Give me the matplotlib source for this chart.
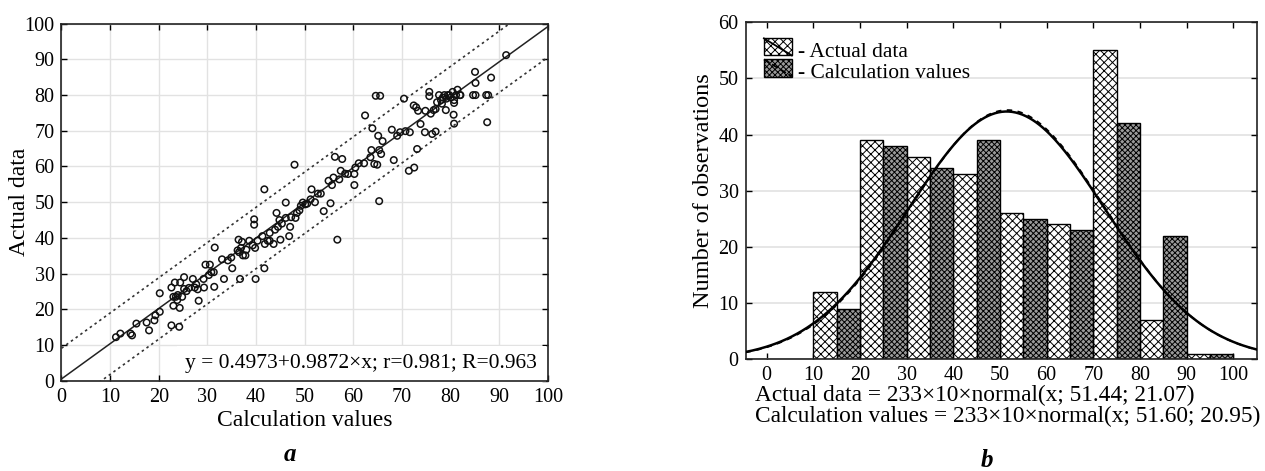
import numpy as np
import matplotlib
matplotlib.use('Agg')
import matplotlib.pyplot as plt
import matplotlib.patches as mpatches
import matplotlib.lines as mlines

plt.rcParams['font.family'] = ['Liberation Serif', 'DejaVu Serif']
plt.rcParams['hatch.linewidth'] = 0.7

# scatter: calculated vs actual
calc_x = [11.2, 12.1, 14.2, 14.5, 15.4, 17.5, 18.0, 19.1, 19.3, 20.2, 20.2, 22.6, 24.2,
          22.6, 23.3, 23.0, 23.0, 23.5, 23.8, 24.3, 24.4, 25.2, 24.8, 25.2, 25.7, 27.0,
          27.4, 27.7, 28.0, 28.2, 29.2, 29.3, 29.6, 30.5, 30.3, 30.8, 31.3, 31.4, 31.5,
          33.4, 34.2, 35.1, 34.9, 36.4, 36.5, 36.7, 36.9, 37.1, 37.3, 37.8, 38.0, 38.6,
          39.3, 39.6, 39.6, 39.8, 39.9, 40.3, 41.3, 41.7, 41.7, 41.8, 42.4, 42.8, 42.8,
          43.6, 43.9, 44.2, 44.5, 45.0, 45.3, 46.1, 46.1, 46.8, 47.0, 47.2, 47.9, 48.1,
          48.4, 48.9, 49.6, 50.1, 50.5, 51.2, 51.4, 52.1, 52.7, 53.3, 53.9, 54.9, 55.3,
          55.6, 55.9, 56.2, 56.7, 57.1, 57.4, 57.7, 58.9, 60.2, 60.2, 60.4, 61.1, 62.2,
          62.4, 63.5, 63.7, 63.9, 64.3, 64.6, 64.9, 65.1, 65.3, 65.5, 65.3, 65.7, 66.0,
          67.9, 68.3, 69.0, 69.6, 70.4, 70.7, 71.4, 71.6, 72.5, 72.4, 72.9, 73.1, 73.3,
          73.8, 74.7, 74.8, 75.6, 75.6, 75.9, 76.2, 76.5, 76.9, 76.9, 77.6, 78.0, 78.2,
          78.4, 78.7, 79.1, 79.0, 79.7, 80.0, 80.4, 80.7, 80.7, 80.6, 80.7, 81.1, 81.4,
          81.9, 84.6, 85.1, 85.0, 85.1, 87.3, 87.7, 87.5, 88.3, 91.4,
          23.9, 26.2, 33.0, 44.8, 49.2, 58.3, 77.2, 79.4, 82.0, 36.2]
actual_y = [12.2, 13.2, 13.2, 12.7, 16.0, 16.3, 14.1, 16.9, 18.3, 19.3, 24.5, 15.5, 15.1,
            26.1, 27.5, 23.5, 21.0, 23.5, 22.6, 20.4, 27.5, 29.0, 23.5, 25.7, 25.1, 28.5,
            26.1, 27.0, 25.6, 22.4, 28.5, 26.1, 32.5, 32.5, 29.6, 30.4, 30.4, 26.3, 37.3,
            28.5, 33.7, 31.5, 34.5, 39.5, 36.0, 28.5, 37.2, 38.9, 35.1, 35.1, 36.7, 39.2,
            37.9, 45.2, 43.7, 37.2, 28.5, 39.2, 40.5, 53.6, 31.5, 38.3, 39.2, 41.4, 39.2,
            38.3, 42.3, 47.0, 43.1, 39.5, 44.0, 45.6, 49.9, 40.5, 43.1, 45.8, 60.5, 45.6,
            47.0, 47.7, 49.9, 49.4, 49.6, 50.8, 53.6, 50.0, 52.4, 52.4, 47.5, 56.0, 49.7,
            54.8, 56.9, 62.7, 39.5, 56.4, 58.8, 62.1, 57.9, 57.9, 54.8, 59.7, 60.9, 60.9,
            74.3, 62.6, 64.6, 70.7, 60.7, 79.8, 60.5, 68.6, 64.6, 79.8, 50.3, 63.5, 67.1,
            70.3, 61.8, 68.6, 69.6, 79.0, 69.9, 58.8, 69.6, 59.7, 77.1, 76.6, 64.9, 75.6,
            71.9, 69.6, 75.6, 80.9, 79.7, 74.8, 69.1, 75.8, 76.1, 69.8, 80.0, 78.6, 77.6,
            79.3, 80.0, 79.0, 75.8, 80.0, 79.3, 80.9, 78.6, 77.8, 74.5, 72.0, 80.0, 81.5,
            80.0, 80.0, 80.0, 86.5, 83.4, 80.0, 80.0, 72.4, 84.9, 91.2,
            24.0, 26.0, 34.0, 45.0, 49.0, 58.0, 78.0, 80.0, 80.0, 36.5]

# regression y = a + b*x and band half-width
reg_a, reg_b = 0.4973, 0.9872
band = 8.6
reg_text = 'y = 0.4973+0.9872×x; r=0.981; R=0.963'

# histogram: bin edges and counts (alternating half-bins)
actual_left = [10, 20, 30, 40, 50, 60, 70, 80, 90]
actual_counts = [12, 39, 36, 33, 26, 24, 55, 7, 1]
calc_left = [15, 25, 35, 45, 55, 65, 75, 85, 95]
calc_counts = [9, 38, 34, 39, 25, 23, 42, 22, 1]
n_obs, bin_w = 233, 10
actual_mu, actual_sd = 51.44, 21.07
calc_mu, calc_sd = 51.60, 20.95


class PatchWithLine:
    def __init__(self, fc, hatch, ls):
        self.fc, self.hatch, self.ls = fc, hatch, ls

    def legend_artist(self, legend, orig_handle, fontsize, handlebox):
        x0, y0 = handlebox.xdescent, handlebox.ydescent
        w, h = handlebox.width, handlebox.height
        tr = handlebox.get_transform()
        rect = mpatches.Rectangle((x0, y0), w, h, facecolor=self.fc, hatch=self.hatch,
                                  edgecolor='black', lw=1, transform=tr)
        line = mlines.Line2D([x0, x0 + w], [y0 + h, y0], color='black', lw=1.3,
                             ls=self.ls, transform=tr)
        handlebox.add_artist(rect)
        handlebox.add_artist(line)
        return rect


def normal_curve(x, mu, sd):
    return n_obs * bin_w * np.exp(-0.5 * ((x - mu) / sd) ** 2) / (sd * np.sqrt(2 * np.pi))


def style_axes(ax):
    ax.tick_params(direction='in', top=True, right=True, length=4, width=1,
                   labelsize=14.5, pad=5)
    for s in ax.spines.values():
        s.set_linewidth(1.2)
        s.set_color('#222222')


fig = plt.figure(figsize=(12.65, 4.71), dpi=100)

# ---- scatter panel
ax1 = fig.add_axes([0.0486, 0.1917, 0.3846, 0.758])
ax1.grid(True, color='#e2e2e2', lw=1)
ax1.set_axisbelow(True)
xs = np.linspace(0, 100, 200)
ax1.plot(xs, reg_a + reg_b * xs, color='#222222', lw=1.1, zorder=3)
ax1.plot(xs, reg_a + reg_b * xs + band, color='#333333', lw=1.2, ls=(0, (1.5, 2)), zorder=3)
ax1.plot(xs, reg_a + reg_b * xs - band, color='#333333', lw=1.2, ls=(0, (1.5, 2)), zorder=3)
ax1.scatter(calc_x, actual_y, s=22, facecolors='none', edgecolors='#111111',
            linewidths=1.1, zorder=4)
ax1.text(97.8, 4.7, reg_text, ha='right', va='center', fontsize=15.5, zorder=2,
         bbox=dict(facecolor='white', edgecolor='none', pad=6))
ax1.set_xlim(0, 100)
ax1.set_ylim(0, 100)
ax1.set_xticks(np.arange(0, 101, 10))
ax1.set_yticks(np.arange(0, 101, 10))
style_axes(ax1)
ax1.set_xlabel('Calculation values', fontsize=17)
ax1.set_ylabel('Actual data', fontsize=17)
ax1.xaxis.set_label_coords(0.5, -0.082)
ax1.yaxis.set_label_coords(-0.064, 0.5)

# ---- histogram panel
ax2 = fig.add_axes([0.5894, 0.2372, 0.404, 0.7155])
ax2.yaxis.grid(True, color='#e2e2e2', lw=1.2)
ax2.set_axisbelow(True)
ax2.bar(actual_left, actual_counts, width=5, align='edge', facecolor='white',
        edgecolor='black', hatch='xxxx', lw=1, zorder=2)
ax2.bar(calc_left, calc_counts, width=5, align='edge', facecolor='#9a9a9a',
        edgecolor='black', hatch='xxxxxx', lw=1, zorder=2)
xc = np.linspace(-4.5, 105, 300)
ax2.plot(xc, normal_curve(xc, actual_mu, actual_sd), color='black', lw=1.8, zorder=3)
ax2.plot(xc, normal_curve(xc, calc_mu, calc_sd), color='black', lw=1.3,
         ls=(0, (3, 3)), zorder=3)
ax2.set_xlim(-4.5, 105)
ax2.set_ylim(0, 60)
ax2.set_xticks(np.arange(0, 101, 10))
ax2.set_yticks(np.arange(0, 61, 10))
style_axes(ax2)
ax2.set_ylabel('Number of observations', fontsize=17.5)
ax2.yaxis.set_label_coords(-0.062, 0.5)

h_act = mpatches.Patch(label='- Actual data')
h_calc = mpatches.Patch(label='- Calculation values')
ax2.legend(handles=[h_act, h_calc], loc='upper left', frameon=False, fontsize=15.5,
           handlelength=1.3, handleheight=0.85, handletextpad=0.3, labelspacing=0.0,
           borderaxespad=0.45,
           handler_map={h_act: PatchWithLine('white', 'xxxx', '-'),
                        h_calc: PatchWithLine('#9a9a9a', 'xxxxxx', '--')})

fig.text(0.597, 0.1614, 'Actual data = 233×10×normal(x; 51.44; 21.07)',
         fontsize=16.8, ha='left', va='center')
fig.text(0.597, 0.1168, 'Calculation values = 233×10×normal(x; 51.60; 20.95)',
         fontsize=16.8, ha='left', va='center')

fig.text(0.229, 0.034, 'a', fontsize=18, fontweight='bold', style='italic',
         ha='center', va='center')
fig.text(0.78, 0.023, 'b', fontsize=18, fontweight='bold', style='italic',
         ha='center', va='center')

fig.savefig('out.png', dpi=100)
